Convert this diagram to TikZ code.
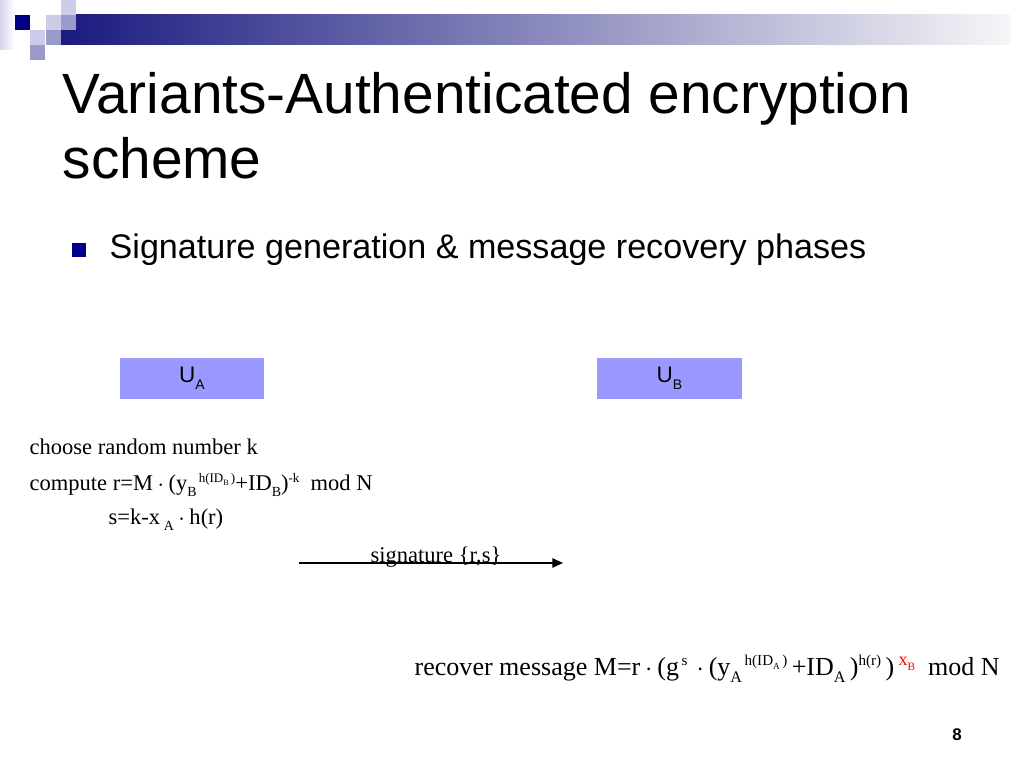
\documentclass[tikz,border=0pt]{standalone}
\usepackage{fontspec}
\usepackage{graphicx}
\setmainfont{Liberation Serif}
\setsansfont{Liberation Sans}
\usetikzlibrary{arrows.meta}
\definecolor{bandnavy}{RGB}{26,26,128}
\definecolor{bandmid}{RGB}{150,150,184}
\definecolor{bandend}{RGB}{246,246,248}
\definecolor{sqnavy}{RGB}{0,0,128}
\definecolor{sqlight}{RGB}{204,204,232}
\definecolor{sqmid}{RGB}{153,153,204}
\definecolor{sqpale}{RGB}{214,214,236}
\definecolor{boxblue}{RGB}{153,153,255}
\definecolor{bulletnavy}{RGB}{0,0,140}
% small raised and lowered indices
\newcommand\hi[1]{\raisebox{0.85ex}{\scalebox{0.58}{#1}}}
\newcommand\lo[1]{\raisebox{-0.55ex}{\scalebox{0.62}{#1}}}

\begin{document}
\begin{tikzpicture}[
    x=0.01cm, y=-0.01cm,
    every node/.style={inner sep=0pt},
    titletext/.style={font=\sffamily\fontsize{16.15}{17}\selectfont, anchor=base west},
    bullettext/.style={font=\sffamily\fontsize{9.7}{11}\selectfont, anchor=base west},
    bulletsq/.style={fill=bulletnavy, minimum size=0.14cm},
    userbox/.style={fill=boxblue, minimum width=1.44cm, minimum height=0.41cm,
        font=\sffamily\fontsize{6.4}{7}\selectfont},
    formula/.style={font=\fontsize{6.4}{7.5}\selectfont, anchor=base west},
    recover/.style={font=\fontsize{7.4}{8.5}\selectfont, anchor=base west},
    sigarrow/.style={line width=0.45pt, -{Triangle[length=3pt,width=2.6pt]}}]
    \useasboundingbox (0,0) rectangle (1024,768);

    % header band and squares
    \shade[left color=sqpale, right color=white] (0,0) rectangle (15,50);
    \shade[left color=bandnavy, middle color=bandmid, right color=bandend] (61,15) rectangle (1010,45);
    \foreach \x/\y/\c in {15/15/sqnavy, 61/0/sqlight, 46/15/sqlight, 61/15/sqmid,
        30/30/sqlight, 46/30/sqmid, 30/45/sqmid}
        \fill[\c] (\x,\y) rectangle ++(15,15);

    \node[titletext] (title1) at (62,114) {Variants-Authenticated encryption};
    \node[titletext] (title2) at (62,179) {scheme};

    \node[bulletsq] (bullet) at (79,250) {};
    \node[bullettext] (phases) at (109,259) {Signature generation \& message recovery phases};

    \node[userbox] (UA) at (192,378.5) {U\lo{A}};
    \node[userbox] (UB) at (669.5,378.5) {U\lo{B}};

    \node[formula] (choose) at (29,455) {choose random number k};
    \node[formula] (compute) at (29,491) {compute r=M\,$\cdot$\,(y\lo{B}\hi{\,h(ID\lo{B}\,)}+ID\lo{B})\hi{-k}\ \ mod N};
    \node[formula] (sval) at (108,525) {s=k-x\,\lo{A}\,$\cdot$\,h(r)};

    \coordinate (sigA) at (299,563);
    \coordinate (sigB) at (563,563);
    \draw[sigarrow] (sigA) -- (sigB);
    \node[formula, anchor=base] (sig) at (436,563) {signature \{r,s\}};

    \node[recover] (recmsg) at (414,676) {recover message M=r\,$\cdot$\,(g\hi{\,s}\,\,$\cdot$\,(y\lo{A}\hi{\,h(ID\lo{A}\,)}\,+ID\lo{A}\,)\hi{h(r)}\,)\,\raisebox{0.85ex}{\scalebox{0.7}{\textcolor{red}{x\lo{B}}}}\ \ mod N};

    \node[font=\sffamily\bfseries\fontsize{4.8}{5}\selectfont, anchor=base] (pagenum) at (957,741) {8};
\end{tikzpicture}
\end{document}
